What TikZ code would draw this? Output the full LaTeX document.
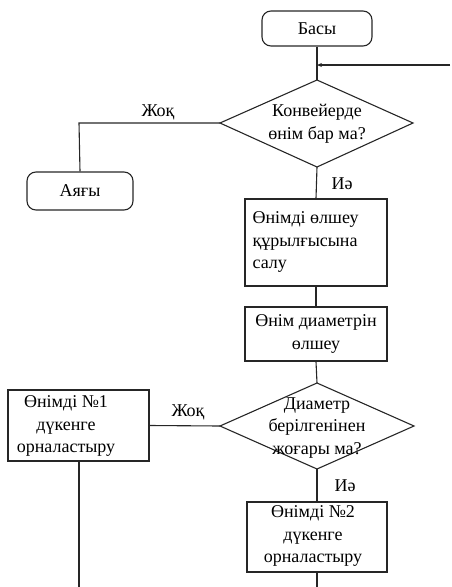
\documentclass[tikz,border=0pt]{standalone}
\usepackage{fontspec}
\setmainfont{Liberation Serif}
\usetikzlibrary{arrows.meta}
\begin{document}
\begin{tikzpicture}[x=1pt,y=-1pt,
  line width=1.1pt, draw=black!85,
  every node/.style={font=\fontsize{18}{22.5}\selectfont, text=black},
  term/.style={draw, rounded corners=9pt, minimum width=#1, inner sep=0pt},
  proc/.style={draw, inner sep=0pt},
  lbl/.style={inner sep=0pt}
]
\useasboundingbox (0,0) rectangle (452,587);
% terminals
\node[term=110pt, minimum height=35pt] (start) at (317,28.5) {Басы};
\node[term=106pt, minimum height=38pt] (end) at (80,191) {Аяғы};
% decision 1
\coordinate (d1t) at (317,80);
\coordinate (d1b) at (317,167);
\coordinate (d1l) at (220,123);
\coordinate (d1r) at (413,123);
\draw (d1t) -- (d1r) -- (d1b) -- (d1l) -- cycle;
\node[lbl, align=center] (d1) at (317,124) {Конвейерде\\өнім бар ма?};
% box 1
\node[proc, minimum width=142pt, minimum height=87pt] (b1) at (316,242.5) {};
\node[lbl, align=left, anchor=west] (b1t) at (252,242) {Өнімді өлшеу\\құрылғысына\\салу};
% box 2
\node[proc, minimum width=142pt, minimum height=54pt, align=center] (b2) at (316,334) {Өнім диаметрін\\өлшеу};
% decision 2
\coordinate (d2t) at (317,383);
\coordinate (d2b) at (317,469);
\coordinate (d2l) at (220,426);
\coordinate (d2r) at (414,426);
\draw (d2t) -- (d2r) -- (d2b) -- (d2l) -- cycle;
\node[lbl, align=center] (d2) at (317,428) {Диаметр\\берілгенінен\\жоғары ма?};
% box left
\node[proc, minimum width=141pt, minimum height=71pt] (bl) at (78.5,425.5) {};
\node[lbl, align=center] (blt) at (66,426) {Өнімді №1\\дүкенге\\орналастыру};
% box 3
\node[proc, minimum width=140pt, minimum height=70pt] (b3) at (317,537) {};
\node[lbl, align=center] (b3t) at (313,536) {Өнімді №2\\дүкенге\\орналастыру};
% connectors
\coordinate (in) at (450,65);
\coordinate (j) at (317,65);
\coordinate (endL) at (79,123);
\coordinate (blbot) at (79,587);
\coordinate (b3bot) at (317,587);
\draw (start.south) -- (d1t);
\draw[-{Stealth[length=5pt,width=4pt]}] (in) -- (j);
\draw (d1l) -- (endL) -- (end.north);
\draw (d1b) -- (b1.north);
\draw (b1.south) -- (b2.north);
\draw (b2.south) -- (d2t);
\draw (d2l) -- (bl.east);
\draw (d2b) -- (b3.north);
\draw (bl.south -| blbot) -- (blbot);
\draw (b3.south) -- (b3bot);
% labels
\node[lbl] (no1) at (158,112) {Жоқ};
\node[lbl] (yes1) at (342,184) {Иә};
\node[lbl] (no2) at (188,412) {Жоқ};
\node[lbl] (yes2) at (345,486) {Иә};
\end{tikzpicture}
\end{document}
